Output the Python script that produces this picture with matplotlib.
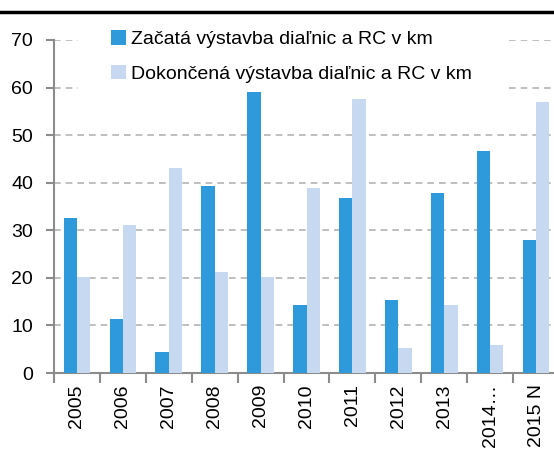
import numpy as np
import matplotlib.pyplot as plt
from matplotlib.lines import Line2D

plt.rcParams['font.family'] = ['Liberation Sans', 'DejaVu Sans']

# Data
years = ['2005', '2006', '2007', '2008', '2009', '2010', '2011', '2012', '2013', '2014…', '2015 N']
zacata = [32.6, 11.3, 4.5, 39.3, 59.0, 14.2, 36.7, 15.3, 37.8, 46.6, 28.0]
dokoncena = [20.1, 31.2, 43.0, 21.2, 20.1, 38.9, 57.6, 5.2, 14.2, 5.8, 56.9]
label_zac = 'Začatá výstavba diaľnic a RC v km'
label_dok = 'Dokončená výstavba diaľnic a RC v km'

dark = '#2E9ADC'
light = '#C6D9F0'
axis_gray = '#8C8C8C'

fig = plt.figure(figsize=(5.54, 4.5), dpi=100)
ax = fig.add_axes([54 / 554, 1 - 373 / 450, (559 - 54) / 554, (373 - 40) / 450])
ax.set_axisbelow(True)

x = np.arange(len(years))
w = 0.29
ax.bar(x - w / 2, zacata, w, color=dark, label=label_zac, zorder=3)
ax.bar(x + w / 2, dokoncena, w, color=light, label=label_dok, zorder=3)

ax.set_xlim(-0.5, len(years) - 0.5)
ax.set_ylim(0, 70)
ax.set_yticks(range(0, 71, 10))
ax.tick_params(axis='y', labelsize=14, length=6, width=1.5, color=axis_gray, pad=9)

# category boundary ticks + centered labels
ax.set_xticks(np.arange(-0.5, len(years), 1.0))
ax.set_xticklabels([])
ax.set_xticks(x, minor=True)
ax.set_xticklabels(years, minor=True, rotation=90, fontsize=14)
ax.tick_params(axis='x', which='major', length=7, width=1.5, color=axis_gray)
ax.tick_params(axis='x', which='minor', length=0, pad=8)

for s in ['top', 'right']:
    ax.spines[s].set_visible(False)
for s in ['left', 'bottom']:
    ax.spines[s].set_color(axis_gray)
    ax.spines[s].set_linewidth(1.5)

ax.yaxis.grid(True, linestyle=(0, (4, 3)), color='#B4B4B4', linewidth=1.2)

leg = ax.legend(loc='upper left', bbox_to_anchor=(0.0475, 1.128), frameon=True, fontsize=14,
                handlelength=0.75, handleheight=0.75, handletextpad=0.3, labelspacing=0.85,
                borderaxespad=0, borderpad=1.7)
leg.get_frame().set_facecolor('white')
leg.get_frame().set_edgecolor('none')
leg.get_frame().set_alpha(1)
leg.set_zorder(2)

fig.add_artist(Line2D([0, 1], [1 - 12 / 450, 1 - 12 / 450], color='black', linewidth=2.5))

fig.savefig('out.png', dpi=100)
